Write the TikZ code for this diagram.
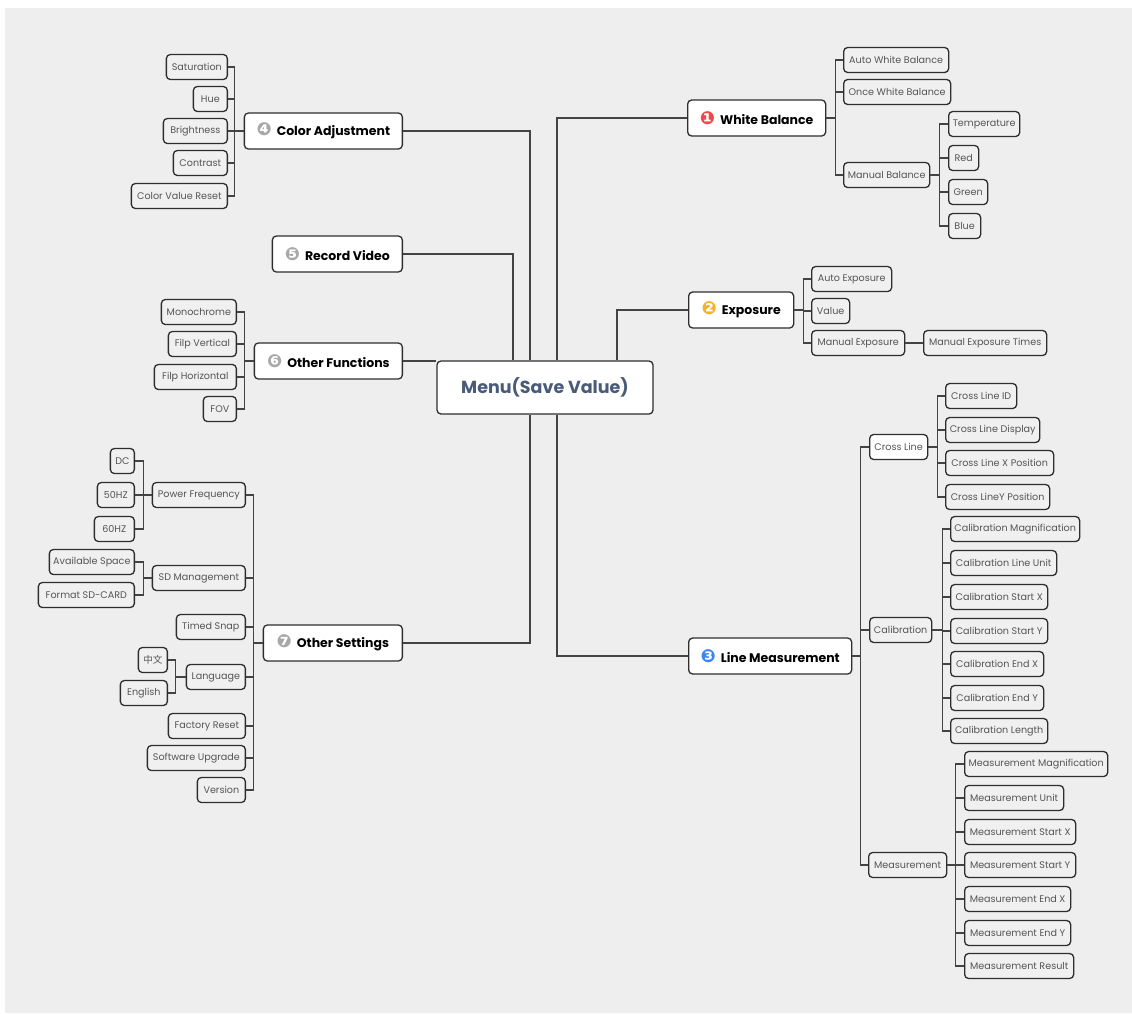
\documentclass[tikz,border=0pt]{standalone}
\usepackage{fontspec}
\setmainfont{Poppins}
\newfontfamily\dejavu{DejaVu Sans}
\newfontfamily\cjk{Noto Sans CJK SC}
\definecolor{bgpaper}{HTML}{EEEEEE}
\definecolor{leaffill}{HTML}{F0F0F0}
\definecolor{edgecol}{HTML}{2E2E2E}
\definecolor{leaftext}{HTML}{555555}
\definecolor{roottext}{HTML}{4A5B7A}
\definecolor{numred}{HTML}{F24848}
\definecolor{numorange}{HTML}{F7B028}
\definecolor{numblue}{HTML}{3A86F0}
\definecolor{numgray}{HTML}{A8A8A8}
\newcommand{\numdot}[2]{{\dejavu\fontsize{18}{18}\selectfont\color{#1}#2}\hspace{5pt}}
\begin{document}
\begin{tikzpicture}[x=1pt,y=-1pt,line width=1.3pt]
  \tikzstyle{root}=[draw=edgecol,fill=white,rounded corners=4pt,minimum width=216,minimum height=53,font=\fontsize{17.5}{17.5}\selectfont\bfseries,text=roottext]
  \tikzstyle{branch}=[draw=edgecol,fill=white,rounded corners=4pt,minimum height=36,inner xsep=4,font=\fontsize{12.5}{12.5}\selectfont\bfseries]
  \tikzstyle{leaf}=[draw=edgecol,fill=leaffill,rounded corners=4pt,minimum height=25,inner xsep=3,font=\fontsize{9.6}{9.6}\selectfont,text=leaftext]
  \tikzstyle{link}=[draw=edgecol!90]
  % paper
  \useasboundingbox (0,0) rectangle (1132,1013);
  \fill[white] (0,0) rectangle (1132,1013);
  \fill[bgpaper] (5,8) rectangle (1132,1013);
  % root
  \node[root] (menu) at (545,387.5) {Menu(Save Value)};
  % right branches
  \node[branch,anchor=west,minimum width=138] (wb) at (687,118) {\numdot{numred}{❶}White Balance};
  \node[branch,anchor=west,minimum width=105] (ex) at (688,310) {\numdot{numorange}{❷}Exposure};
  \node[branch,anchor=west,minimum width=163] (lm) at (688,656) {\numdot{numblue}{❸}Line Measurement};
  % left branches
  \node[branch,anchor=east,minimum width=158] (ca) at (403,131) {\numdot{numgray}{❹}Color Adjustment};
  \node[branch,anchor=east,minimum width=130] (rv) at (403,254) {\numdot{numgray}{❺}Record Video};
  \node[branch,anchor=east,minimum width=148] (of) at (403,361) {\numdot{numgray}{❻}Other Functions};
  \node[branch,anchor=east,minimum width=139] (os) at (403,643) {\numdot{numgray}{❼}Other Settings};
  % white balance
  \node[leaf,anchor=west,minimum width=105] (awb) at (843,60) {Auto White Balance};
  \node[leaf,anchor=west,minimum width=107] (owb) at (843,92) {Once White Balance};
  \node[leaf,anchor=west,minimum width=86] (mb) at (843,175) {Manual Balance};
  \node[leaf,anchor=west,minimum width=71] (temp) at (948,124) {Temperature};
  \node[leaf,anchor=west,minimum width=30] (red) at (948,158) {Red};
  \node[leaf,anchor=west,minimum width=39] (green) at (948,192) {Green};
  \node[leaf,anchor=west,minimum width=32] (blue) at (948,226) {Blue};
  % exposure
  \node[leaf,anchor=west,minimum width=80] (ae) at (811,279) {Auto Exposure};
  \node[leaf,anchor=west,minimum width=38] (val) at (811,311) {Value};
  \node[leaf,anchor=west,minimum width=93] (me) at (811,343) {Manual Exposure};
  \node[leaf,anchor=west,minimum width=123] (met) at (923,343) {Manual Exposure Times};
  % line measurement
  \node[leaf,anchor=west,minimum width=58,fill=white] (cl) at (869,447) {Cross Line};
  \node[leaf,anchor=west,minimum width=62] (cal) at (869,630) {Calibration};
  \node[leaf,anchor=west,minimum width=78] (meas) at (868,865) {Measurement};
  \node[leaf,anchor=west,minimum width=71] (clid) at (945,396) {Cross Line ID};
  \node[leaf,anchor=west,minimum width=94] (cldisp) at (945,430) {Cross Line Display};
  \node[leaf,anchor=west,minimum width=108] (clx) at (945,463) {Cross Line X Position};
  \node[leaf,anchor=west,minimum width=104] (cly) at (945,497) {Cross LineY Position};
  \node[leaf,anchor=west,minimum width=129] (calmag) at (950,529) {Calibration Magnification};
  \node[leaf,anchor=west,minimum width=106] (calunit) at (950,563) {Calibration Line Unit};
  \node[leaf,anchor=west,minimum width=97] (calsx) at (950,597) {Calibration Start X};
  \node[leaf,anchor=west,minimum width=97] (calsy) at (950,631) {Calibration Start Y};
  \node[leaf,anchor=west,minimum width=93] (calex) at (950,664) {Calibration End X};
  \node[leaf,anchor=west,minimum width=93] (caley) at (950,698) {Calibration End Y};
  \node[leaf,anchor=west,minimum width=97] (callen) at (950,731) {Calibration Length};
  \node[leaf,anchor=west,minimum width=143] (mmag) at (964,764) {Measurement Magnification};
  \node[leaf,anchor=west,minimum width=99] (munit) at (964,798) {Measurement Unit};
  \node[leaf,anchor=west,minimum width=111] (msx) at (964,832) {Measurement Start X};
  \node[leaf,anchor=west,minimum width=111] (msy) at (964,865) {Measurement Start Y};
  \node[leaf,anchor=west,minimum width=106] (mex) at (964,899) {Measurement End X};
  \node[leaf,anchor=west,minimum width=106] (mey) at (964,933) {Measurement End Y};
  \node[leaf,anchor=west,minimum width=109] (mres) at (964,966) {Measurement Result};
  % color adjustment
  \node[leaf,anchor=east,minimum width=61] (sat) at (228,67) {Saturation};
  \node[leaf,anchor=east,minimum width=34] (hue) at (228,99) {Hue};
  \node[leaf,anchor=east,minimum width=64] (bri) at (228,131) {Brightness};
  \node[leaf,anchor=east,minimum width=54] (con) at (228,163) {Contrast};
  \node[leaf,anchor=east,minimum width=96] (cvr) at (228,196) {Color Value Reset};
  % other functions
  \node[leaf,anchor=east,minimum width=75] (mono) at (237,312) {Monochrome};
  \node[leaf,anchor=east,minimum width=68] (fv) at (237,344) {Filp Vertical};
  \node[leaf,anchor=east,minimum width=82] (fh) at (237,377) {Filp Horizontal};
  \node[leaf,anchor=east,minimum width=33] (fov) at (237,409) {FOV};
  % other settings
  \node[leaf,anchor=east,minimum width=93] (pf) at (246,495) {Power Frequency};
  \node[leaf,anchor=east,minimum width=93] (sd) at (246,578) {SD Management};
  \node[leaf,anchor=east,minimum width=69] (ts) at (246,627) {Timed Snap};
  \node[leaf,anchor=east,minimum width=59] (lang) at (246,677) {Language};
  \node[leaf,anchor=east,minimum width=77] (fr) at (246,726) {Factory Reset};
  \node[leaf,anchor=east,minimum width=98] (su) at (246,758) {Software Upgrade};
  \node[leaf,anchor=east,minimum width=48] (ver) at (246,790) {Version};
  \node[leaf,anchor=east,minimum width=24] (dc) at (135,461) {DC};
  \node[leaf,anchor=east,minimum width=37] (hz50) at (135,495) {50HZ};
  \node[leaf,anchor=east,minimum width=40] (hz60) at (135,529) {60HZ};
  \node[leaf,anchor=east,minimum width=85] (avail) at (135,562) {Available Space};
  \node[leaf,anchor=east,minimum width=96] (fmt) at (135,595) {Format SD-CARD};
  \node[leaf,anchor=east,minimum width=29] (zh) at (168,660) {\cjk 中文};
  \node[leaf,anchor=east,minimum width=47] (en) at (168,693) {English};
  % root links
  \draw[link] (wb.west) -| ([xshift=12]menu.north);
  \draw[link] (ex.west) -| ([xshift=72]menu.north);
  \draw[link] (lm.west) -| ([xshift=12]menu.south);
  \draw[link] (ca.east) -| ([xshift=-15]menu.north);
  \draw[link] (rv.east) -| ([xshift=-32]menu.north);
  \draw[link] (of.east) -- (of.east -| menu.west);
  \draw[link] (os.east) -| ([xshift=-15]menu.south);
  % brackets, right
  \foreach \c in {awb,owb,mb} \draw[link] (wb.east) -- ++(9,0) |- (\c.west);
  \foreach \c in {temp,red,green,blue} \draw[link] (mb.east) -- ++(9,0) |- (\c.west);
  \foreach \c in {ae,val,me} \draw[link] (ex.east) -- ++(9,0) |- (\c.west);
  \draw[link] (me) -- (met);
  \foreach \c in {cl,cal,meas} \draw[link] (lm.east) -- ++(8,0) |- (\c.west);
  \foreach \c in {clid,cldisp,clx,cly} \draw[link] (cl.east) -- ++(9,0) |- (\c.west);
  \foreach \c in {calmag,calunit,calsx,calsy,calex,caley,callen} \draw[link] (cal.east) -- ++(10,0) |- (\c.west);
  \foreach \c in {mmag,munit,msx,msy,mex,mey,mres} \draw[link] (meas.east) -- ++(8,0) |- (\c.west);
  % brackets, left
  \foreach \c in {sat,hue,bri,con,cvr} \draw[link] (ca.west) -- ++(-9,0) |- (\c.east);
  \foreach \c in {mono,fv,fh,fov} \draw[link] (of.west) -- ++(-9,0) |- (\c.east);
  \foreach \c in {pf,sd,ts,lang,fr,su,ver} \draw[link] (os.west) -- ++(-9,0) |- (\c.east);
  \foreach \c in {dc,hz50,hz60} \draw[link] (pf.west) -- ++(-8,0) |- (\c.east);
  \foreach \c in {avail,fmt} \draw[link] (sd.west) -- ++(-8,0) |- (\c.east);
  \foreach \c in {zh,en} \draw[link] (lang.west) -- ++(-10,0) |- (\c.east);
\end{tikzpicture}
\end{document}
